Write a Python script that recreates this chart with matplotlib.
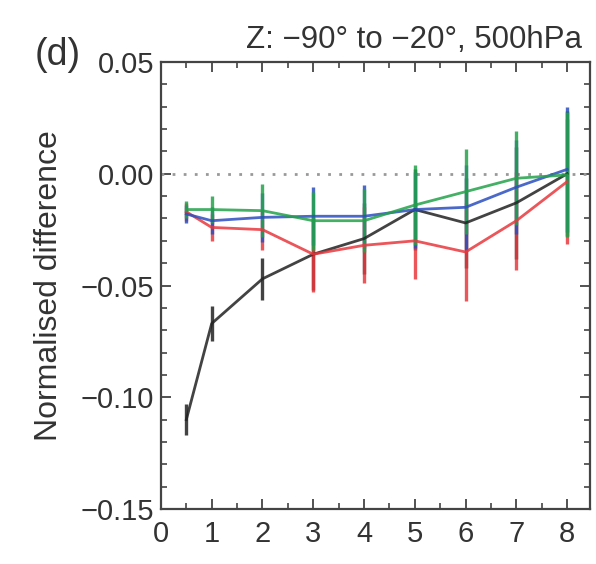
import matplotlib
matplotlib.use("Agg")
import matplotlib.pyplot as plt
from matplotlib.ticker import MultipleLocator, FixedLocator

plt.rcParams['font.family'] = ['Liberation Sans', 'DejaVu Sans']

# data
lead = [0.5, 1, 2, 3, 4, 5, 6, 7, 8]

black = [-0.110, -0.067, -0.047, -0.036, -0.029, -0.016, -0.022, -0.013, 0.000]
red = [-0.017, -0.024, -0.025, -0.036, -0.032, -0.030, -0.035, -0.021, -0.0035]
green = [-0.016, -0.016, -0.0165, -0.021, -0.021, -0.014, -0.008, -0.002, -0.0005]
blue = [-0.018, -0.021, -0.0195, -0.019, -0.019, -0.016, -0.015, -0.006, 0.002]

black_err = [0.007, 0.008, 0.0095, 0.016, 0.016, 0.018, 0.020, 0.025, 0.028]
red_err = [0.004, 0.006, 0.009, 0.017, 0.017, 0.017, 0.022, 0.022, 0.028]
green_err = [0.004, 0.006, 0.012, 0.013, 0.014, 0.018, 0.019, 0.021, 0.028]
blue_err = [0.004, 0.006, 0.011, 0.013, 0.014, 0.017, 0.019, 0.021, 0.028]

series = [
    (black, black_err, '#222222'),
    (red, red_err, '#e8383d'),
    (blue, blue_err, '#2b4fc0'),
    (green, green_err, '#23a24a'),
]

fig = plt.figure(figsize=(5.96, 5.64), dpi=100)
ax = fig.add_axes([0.270, 0.0975, 0.720, 0.7925])

ax.plot([0, 8.45], [0, 0], color='#999999', lw=2, ls=(0, (1, 3)))

for vals, errs, col in series:
    ax.errorbar(lead, vals, yerr=errs, color=col, lw=2.0,
                elinewidth=2.4, capsize=0, alpha=0.85)

ax.set_xlim(0, 8.45)
ax.set_ylim(-0.15, 0.05)
ax.xaxis.set_major_locator(MultipleLocator(1))
ax.xaxis.set_minor_locator(MultipleLocator(0.5))
ax.yaxis.set_major_locator(FixedLocator([-0.15, -0.10, -0.05, 0.00, 0.05]))
ax.yaxis.set_minor_locator(MultipleLocator(0.01))
ax.set_yticklabels(['\u22120.15', '\u22120.10', '\u22120.05', '0.00', '0.05'])

ax.tick_params(which='both', direction='in', top=True, right=True,
               color='#444444', labelsize=21, labelcolor='#333333')
ax.tick_params(axis='y', pad=5)
ax.tick_params(axis='x', pad=8)
ax.tick_params(which='major', length=7, width=1.3)
ax.tick_params(which='minor', length=4, width=1.2)
for sp in ax.spines.values():
    sp.set_linewidth(1.6)
    sp.set_color('#444444')

ax.set_ylabel('Normalised difference', fontsize=23, color='#333333', labelpad=12)
ax.set_title('Z: \u221290\u00b0 to \u221220\u00b0, 500hPa', fontsize=22.5,
             color='#333333', pad=10, x=0.59)
fig.text(0.058, 0.885, '(d)', fontsize=27, color='#333333')

plt.savefig('out.png', dpi=100)
